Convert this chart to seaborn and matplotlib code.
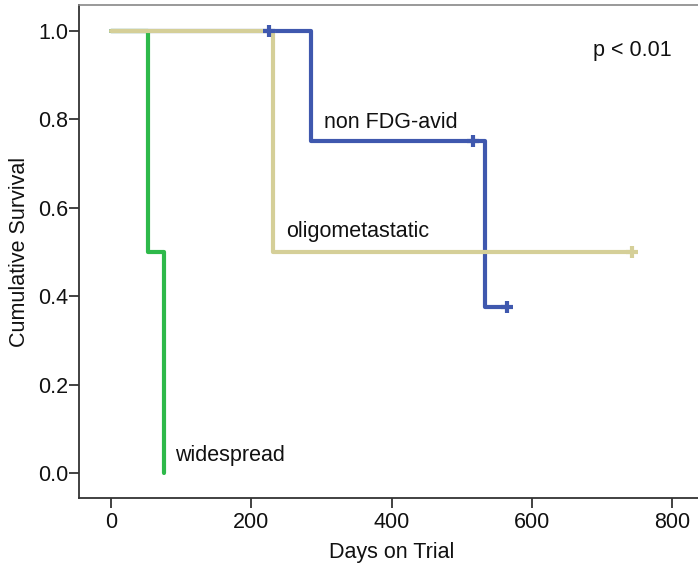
import matplotlib
matplotlib.use("Agg")
import matplotlib.pyplot as plt
import seaborn as sns
import pandas as pd

# Data (Kaplan-Meier step curves)
groups = ["non FDG-avid", "oligometastatic", "widespread"]
blue_days = [0, 225, 285, 516, 533, 564]
blue_surv = [1.0, 1.0, 0.75, 0.75, 0.375, 0.375]
blue_cens_days = [225, 516, 564]
blue_cens_surv = [1.0, 0.75, 0.375]

tan_days = [0, 231, 742]
tan_surv = [1.0, 0.5, 0.5]
tan_cens_days = [742]
tan_cens_surv = [0.5]

green_days = [0, 53, 76]
green_surv = [1.0, 0.5, 0.0]

colors = {"non FDG-avid": "#3F58AE", "oligometastatic": "#D5CF98", "widespread": "#2EB94A"}

df = pd.concat([
    pd.DataFrame({"day": blue_days, "surv": blue_surv, "group": groups[0]}),
    pd.DataFrame({"day": tan_days, "surv": tan_surv, "group": groups[1]}),
    pd.DataFrame({"day": green_days, "surv": green_surv, "group": groups[2]}),
])
cens = pd.concat([
    pd.DataFrame({"day": blue_cens_days, "surv": blue_cens_surv, "group": groups[0]}),
    pd.DataFrame({"day": tan_cens_days, "surv": tan_cens_surv, "group": groups[1]}),
])

sns.set_style("white")
plt.rcParams["font.family"] = ["Liberation Sans", "DejaVu Sans"]

FS = 15.5
fig = plt.figure(figsize=(6.98, 5.66), dpi=100)
ax = fig.add_axes([0.1136, 0.1207, 0.895, 0.870])

# draw blue first, then green, then tan on top
for g, z in [(groups[0], 2), (groups[2], 3), (groups[1], 4)]:
    sub = df[df.group == g]
    sns.lineplot(data=sub, x="day", y="surv", ax=ax, color=colors[g],
                 drawstyle="steps-post", linewidth=3.0, zorder=z,
                 estimator=None, sort=False, legend=False)

for g in groups[:2]:
    sub = cens[cens.group == g]
    ax.plot(sub.day, sub.surv, linestyle="none", marker="+", markersize=9,
            markeredgewidth=3.0, color=colors[g], zorder=6)

ax.set_xlim(-45, 845)
ax.set_ylim(-0.055, 1.057)
ax.set_xticks([0, 200, 400, 600, 800])
ax.set_yticks([0.0, 0.2, 0.4, 0.6, 0.8, 1.0])
ax.set_yticklabels(["0.0", "0.2", "0.4", "0.6", "0.8", "1.0"])
ax.tick_params(axis="both", direction="out", length=7, width=1.3, color="#333333",
               labelsize=FS, labelcolor="#111111", left=True, bottom=True)
ax.tick_params(axis="y", pad=1)
ax.tick_params(axis="x", pad=3)
ax.set_xlabel("Days on Trial", fontsize=FS, color="#111111", labelpad=7)
ax.set_ylabel("Cumulative Survival", fontsize=FS, color="#111111", labelpad=6)

for s in ["left", "bottom"]:
    ax.spines[s].set_color("#333333")
    ax.spines[s].set_linewidth(1.3)
ax.spines["top"].set_color("#888888")
ax.spines["top"].set_linewidth(1.2)
ax.spines["right"].set_visible(False)

ax.text(303, 0.793, "non FDG-avid", fontsize=FS, va="center", ha="left", color="#111111")
ax.text(249, 0.545, "oligometastatic", fontsize=FS, va="center", ha="left", color="#111111")
ax.text(92, 0.041, "widespread", fontsize=FS, va="center", ha="left", color="#111111")
ax.text(687, 0.955, "p < 0.01", fontsize=FS, va="center", ha="left", color="#111111")

fig.savefig("out.png", dpi=100)
